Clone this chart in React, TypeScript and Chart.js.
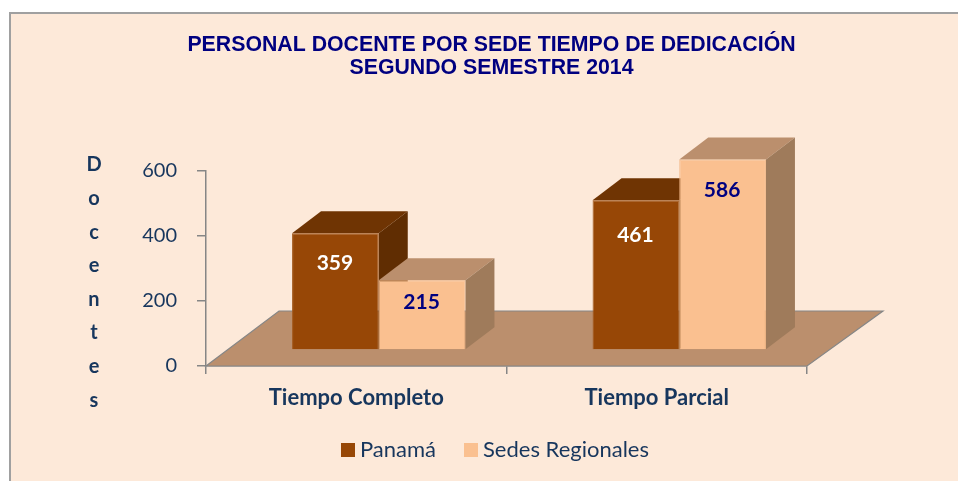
import React, { useEffect, useRef } from "react";
import { Chart, registerables } from "chart.js";

Chart.register(...registerables);

const categories = ["Tiempo Completo", "Tiempo Parcial"];
const panama = [359, 461];
const sedes = [215, 586];
const seriesNames = ["Panamá", "Sedes Regionales"];
const titleLines = ["PERSONAL DOCENTE POR SEDE TIEMPO DE DEDICACIÓN", "SEGUNDO SEMESTRE 2014"];
const yTitle = ["D", "o", "c", "e", "n", "t", "e", "s"];

const FLOOR_COLOR = "#BB8F6D";
const AXIS_COLOR = "#868686";
const TEXT_COLOR = "#17365D";
const NAVY = "#000080";
const faces = [
  { front: "#974706", top: "#6F3403", side: "#602D02", edge: "#A45A1E", label: "#FFFFFF" },
  { front: "#FAC090", top: "#BB8F6D", side: "#9F7B5B", edge: "#F2B888", label: NAVY },
];

const plugin3d = {
  id: "plugin3d",
  afterLayout(chart: any) {
    // the title is centred on the panel, not on the canvas
    if (chart.titleBlock) {
      chart.titleBlock.left += 18;
      chart.titleBlock.right += 18;
    }
  },
  beforeDatasetsDraw(chart: any) {
    const { ctx, chartArea } = chart;
    const { left, right, bottom } = chartArea;
    const fx = 76;
    const fy = 55;
    ctx.save();
    ctx.beginPath();
    ctx.moveTo(left, bottom);
    ctx.lineTo(left + fx - 3, bottom - fy);
    ctx.lineTo(right + fx, bottom - fy);
    ctx.lineTo(right, bottom);
    ctx.closePath();
    ctx.fillStyle = FLOOR_COLOR;
    ctx.fill();
    ctx.strokeStyle = AXIS_COLOR;
    ctx.lineWidth = 1.2;
    ctx.stroke();
    ctx.restore();
  },
  // the library would paint the first series last; the right-hand bar has to be in front
  beforeDatasetDraw() {
    return false;
  },
  afterDatasetsDraw(chart: any) {
    const { ctx } = chart;
    const dx = 29;
    const dy = 22;
    chart.data.datasets.forEach((_: any, i: number) => {
      const meta = chart.getDatasetMeta(i);
      const face = faces[i];
      ctx.save();
      ctx.translate(22.5, -16);
      meta.data.forEach((bar: any) => {
        const l = bar.x - bar.width / 2;
        const r = bar.x + bar.width / 2;
        ctx.fillStyle = face.top;
        ctx.beginPath();
        ctx.moveTo(l, bar.y);
        ctx.lineTo(l + dx, bar.y - dy);
        ctx.lineTo(r + dx, bar.y - dy);
        ctx.lineTo(r, bar.y);
        ctx.closePath();
        ctx.fill();
        ctx.fillStyle = face.side;
        ctx.beginPath();
        ctx.moveTo(r, bar.y);
        ctx.lineTo(r + dx, bar.y - dy);
        ctx.lineTo(r + dx, bar.base - dy);
        ctx.lineTo(r, bar.base);
        ctx.closePath();
        ctx.fill();
      });
      meta.controller.draw();
      ctx.restore();
    });

    const labelShift = [
      [30, 22],
      [35, 31],
    ];
    ctx.save();
    ctx.textAlign = "center";
    ctx.textBaseline = "middle";
    ctx.font = "bold 21px Lato";
    chart.data.datasets.forEach((ds: any, i: number) => {
      const meta = chart.getDatasetMeta(i);
      meta.data.forEach((bar: any, j: number) => {
        ctx.fillStyle = faces[i].label;
        ctx.fillText(String(ds.data[j]), bar.x + 22, bar.y - 16 + labelShift[j][i]);
      });
    });
    ctx.restore();

    // vertical axis title, one letter per row
    ctx.save();
    ctx.textAlign = "center";
    ctx.textBaseline = "middle";
    ctx.font = "bold 20px Lato";
    ctx.fillStyle = TEXT_COLOR;
    yTitle.forEach((ch, i) => ctx.fillText(ch, 94, 165 + i * 33.6));
    ctx.restore();

    // legend
    ctx.save();
    ctx.font = "22px Lato";
    ctx.textBaseline = "middle";
    const xs = [341, 464];
    chart.data.datasets.forEach((ds: any, i: number) => {
      ctx.fillStyle = faces[i].front;
      ctx.fillRect(xs[i], 443, 14, 14);
      ctx.fillStyle = TEXT_COLOR;
      ctx.fillText(ds.label, xs[i] + 19, 450);
    });
    ctx.restore();
  },
};

export default function App() {
  const ref = useRef<HTMLCanvasElement>(null);
  useEffect(() => {
    const chart = new Chart(ref.current!, {
      type: "bar",
      data: {
        labels: categories,
        datasets: [
          {
            label: seriesNames[0],
            data: panama,
            backgroundColor: faces[0].front,
            borderColor: faces[0].edge,
            borderWidth: 1,
            barPercentage: 1,
            categoryPercentage: 0.577,
          },
          {
            label: seriesNames[1],
            data: sedes,
            backgroundColor: faces[1].front,
            borderColor: faces[1].edge,
            borderWidth: 1,
            barPercentage: 1,
            categoryPercentage: 0.577,
          },
        ],
      },
      options: {
        responsive: false,
        animation: false,
        clip: false,
        layout: { padding: { left: 140, right: 151, top: 0, bottom: 0 } },
        plugins: {
          legend: { display: false },
          tooltip: { enabled: false },
          title: {
            display: true,
            text: titleLines,
            color: NAVY,
            font: { family: "Liberation Sans", size: 21.3, weight: "bold", lineHeight: 1.08 },
            padding: { top: 34, bottom: 91 },
          },
        },
        scales: {
          x: {
            afterFit: (s: any) => {
              s.height = 115;
            },
            border: { color: AXIS_COLOR, width: 1.5 },
            grid: { drawOnChartArea: false, color: AXIS_COLOR, tickLength: 8, lineWidth: 1.5 },
            ticks: {
              color: TEXT_COLOR,
              padding: 11,
              maxRotation: 0,
              font: { family: "Lato", size: 22, weight: "bold" },
            },
          },
          y: {
            min: 0,
            max: 600,
            afterFit: (s: any) => {
              s.width = 66;
            },
            border: { color: AXIS_COLOR, width: 1.5 },
            grid: { drawOnChartArea: false, color: AXIS_COLOR, tickLength: 9, lineWidth: 1.5 },
            ticks: {
              stepSize: 200,
              color: TEXT_COLOR,
              padding: 20,
              font: { family: "Lato", size: 20 },
            },
          },
        },
      },
      plugins: [plugin3d],
    } as any);
    return () => chart.destroy();
  }, []);
  return (
    <div
      style={{
        position: "fixed",
        left: 0,
        top: 0,
        width: 958,
        height: 481,
        background: "#FFFFFF",
      }}
    >
      <div
        style={{
          position: "absolute",
          left: 9,
          top: 12,
          right: 0,
          bottom: 0,
          background: "#FDE9D9",
          borderLeft: "2px solid #A0A0A0",
          borderTop: "2px solid #A0A0A0",
        }}
      />
      <canvas
        ref={ref}
        width={958}
        height={481}
        style={{ position: "absolute", left: 0, top: 0, display: "block" }}
      />
    </div>
  );
}
